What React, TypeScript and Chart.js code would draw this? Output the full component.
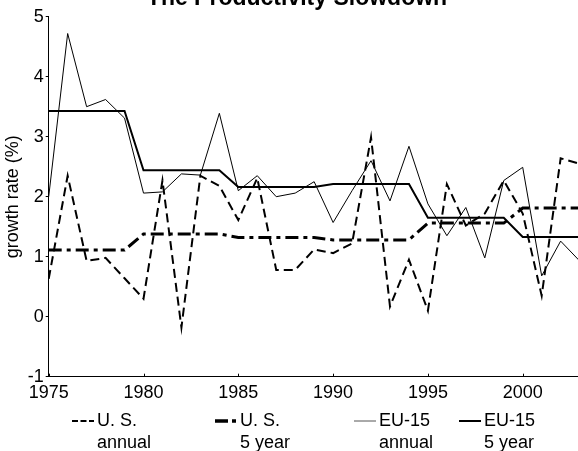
import React, { useEffect, useRef } from "react";
import { Chart, registerables } from "chart.js";

Chart.register(...registerables);

const chartTitle = "The Productivity Slowdown";
const yAxisTitle = "growth rate (%)";

const years = [
  1975, 1976, 1977, 1978, 1979, 1980, 1981, 1982, 1983, 1984,
  1985, 1986, 1987, 1988, 1989, 1990, 1991, 1992, 1993, 1994,
  1995, 1996, 1997, 1998, 1999, 2000, 2001, 2002, 2003,
];

const usAnnual = [
  0.63, 2.35, 0.93, 0.98, 0.64, 0.3, 2.27, -0.18, 2.35, 2.18,
  1.61, 2.31, 0.78, 0.78, 1.12, 1.06, 1.22, 2.99, 0.17, 0.95,
  0.1, 2.21, 1.52, 1.72, 2.27, 1.72, 0.35, 2.64, 2.55,
];

const usFiveYear = [
  1.11, 1.11, 1.11, 1.11, 1.11, 1.38, 1.38, 1.38, 1.38, 1.38,
  1.32, 1.32, 1.32, 1.32, 1.32, 1.28, 1.28, 1.28, 1.28, 1.28,
  1.56, 1.56, 1.56, 1.56, 1.56, 1.81, 1.81, 1.81, 1.81,
];

const euAnnual = [
  2.0, 4.72, 3.5, 3.62, 3.31, 2.06, 2.08, 2.38, 2.36, 3.39,
  2.1, 2.35, 2.0, 2.06, 2.25, 1.57, 2.1, 2.6, 1.93, 2.84,
  1.88, 1.35, 1.82, 0.98, 2.27, 2.49, 0.68, 1.26, 0.93,
];

const euFiveYear = [
  3.43, 3.43, 3.43, 3.43, 3.43, 2.44, 2.44, 2.44, 2.44, 2.44,
  2.16, 2.16, 2.16, 2.16, 2.16, 2.21, 2.21, 2.21, 2.21, 2.21,
  1.65, 1.65, 1.65, 1.65, 1.65, 1.33, 1.33, 1.33, 1.33,
];

const seriesNames = [
  ["U. S.", "annual"],
  ["U. S.", "5 year"],
  ["EU-15", "annual"],
  ["EU-15", "5 year"],
];

const FONT = "'Liberation Sans', Arial, Helvetica, sans-serif";

const inwardXTicks = {
  id: "inwardXTicks",
  afterDraw(chart: any) {
    const xs = chart.scales.x;
    const bottom = chart.chartArea.bottom;
    const ctx = chart.ctx;
    ctx.save();
    ctx.strokeStyle = "#000";
    ctx.lineWidth = 1;
    xs.ticks.forEach((t: any) => {
      const px = Math.round(xs.getPixelForValue(t.value)) + 0.5;
      ctx.beginPath();
      ctx.moveTo(px, bottom);
      ctx.lineTo(px, bottom - 3);
      ctx.stroke();
    });
    ctx.restore();
  },
};

function LegendSymbol({ kind }: { kind: number }) {
  const common = { x1: 0, y1: 6, x2: 22, y2: 6 };
  if (kind === 0)
    return (
      <svg width={22} height={12}>
        <line {...common} stroke="#000" strokeWidth={2} strokeDasharray="6,2.5" />
      </svg>
    );
  if (kind === 1)
    return (
      <svg width={22} height={12}>
        <line {...common} stroke="#000" strokeWidth={3.5} strokeDasharray="13,4,4,10" />
      </svg>
    );
  if (kind === 2)
    return (
      <svg width={22} height={12}>
        <line {...common} stroke="#555" strokeWidth={1} />
      </svg>
    );
  return (
    <svg width={22} height={12}>
      <line {...common} stroke="#000" strokeWidth={2} />
    </svg>
  );
}

export default function App() {
  const canvasRef = useRef<HTMLCanvasElement | null>(null);

  useEffect(() => {
    const canvas = canvasRef.current;
    if (!canvas) return;
    const chart = new Chart(canvas, {
      type: "line",
      data: {
        labels: years,
        datasets: [
          {
            label: seriesNames[3].join(" "),
            data: euFiveYear,
            borderColor: "#000",
            borderWidth: 2,
            pointRadius: 0,
            tension: 0,
            fill: false,
          },
          {
            label: seriesNames[2].join(" "),
            data: euAnnual,
            borderColor: "#000",
            borderWidth: 1,
            pointRadius: 0,
            tension: 0,
            fill: false,
          },
          {
            label: seriesNames[1].join(" "),
            data: usFiveYear,
            borderColor: "#000",
            borderWidth: 3,
            borderDash: [13, 5, 4, 5],
            pointRadius: 0,
            tension: 0,
            fill: false,
          },
          {
            label: seriesNames[0].join(" "),
            data: usAnnual,
            borderColor: "#000",
            borderWidth: 2,
            borderDash: [9, 5],
            pointRadius: 0,
            tension: 0,
            fill: false,
          },
        ],
      },
      options: {
        responsive: false,
        animation: false,
        layout: { padding: { left: 0, right: 20.4, top: 16.7, bottom: 0 } },
        plugins: {
          legend: { display: false },
          title: { display: false },
          tooltip: { enabled: false },
        },
        scales: {
          x: {
            type: "linear",
            min: 1975,
            max: 2003,
            afterFit: (s: any) => {
              s.height = 451 - 376.7;
            },
            ticks: {
              stepSize: 5,
              includeBounds: false,
              autoSkip: false,
              maxRotation: 0,
              padding: 6,
              color: "#000",
              font: { family: FONT, size: 18 },
              callback: (v: any) => String(v),
            },
            grid: { display: true, drawOnChartArea: false, drawTicks: false },
            border: { display: true, color: "#000", width: 1 },
          },
          y: {
            type: "linear",
            min: -1,
            max: 5,
            afterFit: (s: any) => {
              s.width = 48.7;
            },
            ticks: {
              stepSize: 1,
              padding: 2,
              color: "#000",
              font: { family: FONT, size: 18 },
              callback: (v: any) => String(v),
            },
            grid: { display: true, drawOnChartArea: false, drawTicks: true, tickLength: 3, color: "#000" },
            border: { display: true, color: "#000", width: 1 },
            title: {
              display: true,
              text: yAxisTitle,
              color: "#000",
              font: { family: FONT, size: 18 },
              padding: { top: 2, bottom: 0 },
            },
          },
        },
      },
      plugins: [inwardXTicks],
    });
    return () => chart.destroy();
  }, []);

  const legendLefts = [72, 215, 354, 459];

  return (
    <div
      style={{
        position: "fixed",
        left: 0,
        top: 0,
        width: 578,
        height: 451,
        overflow: "hidden",
        background: "#fff",
        fontFamily: FONT,
      }}
    >
      <canvas
        ref={canvasRef}
        width={600}
        height={451}
        style={{ position: "absolute", left: 0, top: 0, width: 600, height: 451 }}
      />
      <div
        style={{
          position: "absolute",
          left: 0,
          top: -14,
          width: 594,
          textAlign: "center",
          fontWeight: "bold",
          fontSize: 23,
          lineHeight: "23px",
          color: "#000",
          whiteSpace: "nowrap",
        }}
      >
        {chartTitle}
      </div>
      {seriesNames.map((name, i) => (
        <div
          key={i}
          style={{
            position: "absolute",
            left: legendLefts[i],
            top: 410,
            display: "flex",
            alignItems: "flex-start",
            fontSize: 18,
            lineHeight: "21.5px",
            color: "#000",
            whiteSpace: "nowrap",
          }}
        >
          <div style={{ width: 22, height: 21.5, display: "flex", alignItems: "center", marginTop: 0 }}>
            <LegendSymbol kind={i} />
          </div>
          <div style={{ marginLeft: 3 }}>
            <div>{name[0]}</div>
            <div>{name[1]}</div>
          </div>
        </div>
      ))}
    </div>
  );
}
